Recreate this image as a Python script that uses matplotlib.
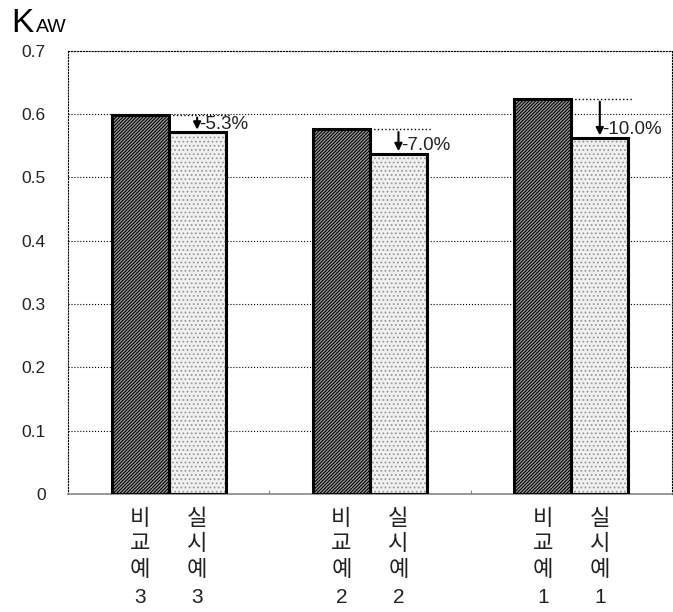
import matplotlib
matplotlib.use("Agg")
import matplotlib.pyplot as plt
import numpy as np

plt.rcParams['font.family'] = ['Liberation Sans', 'Noto Sans CJK KR', 'DejaVu Sans']
plt.rcParams['hatch.linewidth'] = 0.8

group_nums = ['3', '2', '1']
comp_vals = [0.599, 0.576, 0.624]   # 비교예
ex_vals = [0.571, 0.537, 0.562]     # 실시예
pct_labels = ['-5.3%', '-7.0%', '-10.0%']
comp_chars = '비\n교\n예'
ex_chars = '실\n시\n예'
yticks = [0, 0.1, 0.2, 0.3, 0.4, 0.5, 0.6, 0.7]

fig = plt.figure(figsize=(6.73, 6.12), dpi=100)
ax = fig.add_axes([0.101, 0.193, 0.8975, 0.724])

x = np.arange(len(group_nums))
w = 0.283

# hatched fills first, then thick black outlines on top
ax.bar(x - w / 2, comp_vals, w, color='#9c9c9c', hatch='/' * 10, edgecolor='black', lw=0, zorder=2)
ax.bar(x + w / 2, ex_vals, w, color='#f0f0f0', hatch='....', edgecolor='#9a9a9a', lw=0, zorder=2)
ax.bar(x - w / 2, comp_vals, w, fill=False, edgecolor='black', lw=2.2, zorder=3)
ax.bar(x + w / 2, ex_vals, w, fill=False, edgecolor='black', lw=2.2, zorder=3)

for i in range(len(x)):
    ax.plot([x[i], x[i] + w + 0.02], [comp_vals[i], comp_vals[i]], ls=':', color='black', lw=1.0, zorder=4)
    ax.annotate('', xy=(x[i] + w / 2, ex_vals[i]), xytext=(x[i] + w / 2, comp_vals[i]),
                arrowprops=dict(arrowstyle='-|>', color='black', lw=1.5, mutation_scale=11), zorder=5)
    ax.text(x[i] + w / 2 + 0.012, ex_vals[i] + 0.013, pct_labels[i], fontsize=13.5, va='center', ha='left',
            color='#222222', zorder=6)

ax.set_xlim(-0.5, 2.5)
ax.set_ylim(0, 0.7)
ax.set_yticks(yticks)
ax.set_yticklabels(['0' if v == 0 else f'{v:.1f}' for v in yticks], fontsize=12.5, color='#222222')
ax.yaxis.grid(True, ls=':', color='black', lw=0.8, zorder=0)
ax.tick_params(axis='y', length=0, pad=16)
ax.set_xticks([0.5, 1.5])
ax.set_xticklabels([])
ax.tick_params(axis='x', direction='in', length=3, color='#888888')

for s in ['left', 'top', 'right']:
    ax.spines[s].set_linestyle(':')
    ax.spines[s].set_linewidth(0.8)
ax.spines['bottom'].set_color('#888888')
ax.spines['bottom'].set_linewidth(1.2)

trans = ax.get_xaxis_transform()
for i in range(len(x)):
    for xo, chars in [(x[i] - w / 2, comp_chars), (x[i] + w / 2, ex_chars)]:
        ax.text(xo, -0.033, chars, transform=trans, ha='center', va='top', fontsize=16,
                linespacing=1.3, color='#222222')
        ax.text(xo, -0.213, group_nums[i], transform=trans, ha='center', va='top', fontsize=15,
                color='#222222')

fig.text(0.017, 0.948, 'K', fontsize=24, ha='left', va='baseline')
fig.text(0.053, 0.948, 'AW', fontsize=14, ha='left', va='baseline')

fig.savefig('out.png', dpi=100)
